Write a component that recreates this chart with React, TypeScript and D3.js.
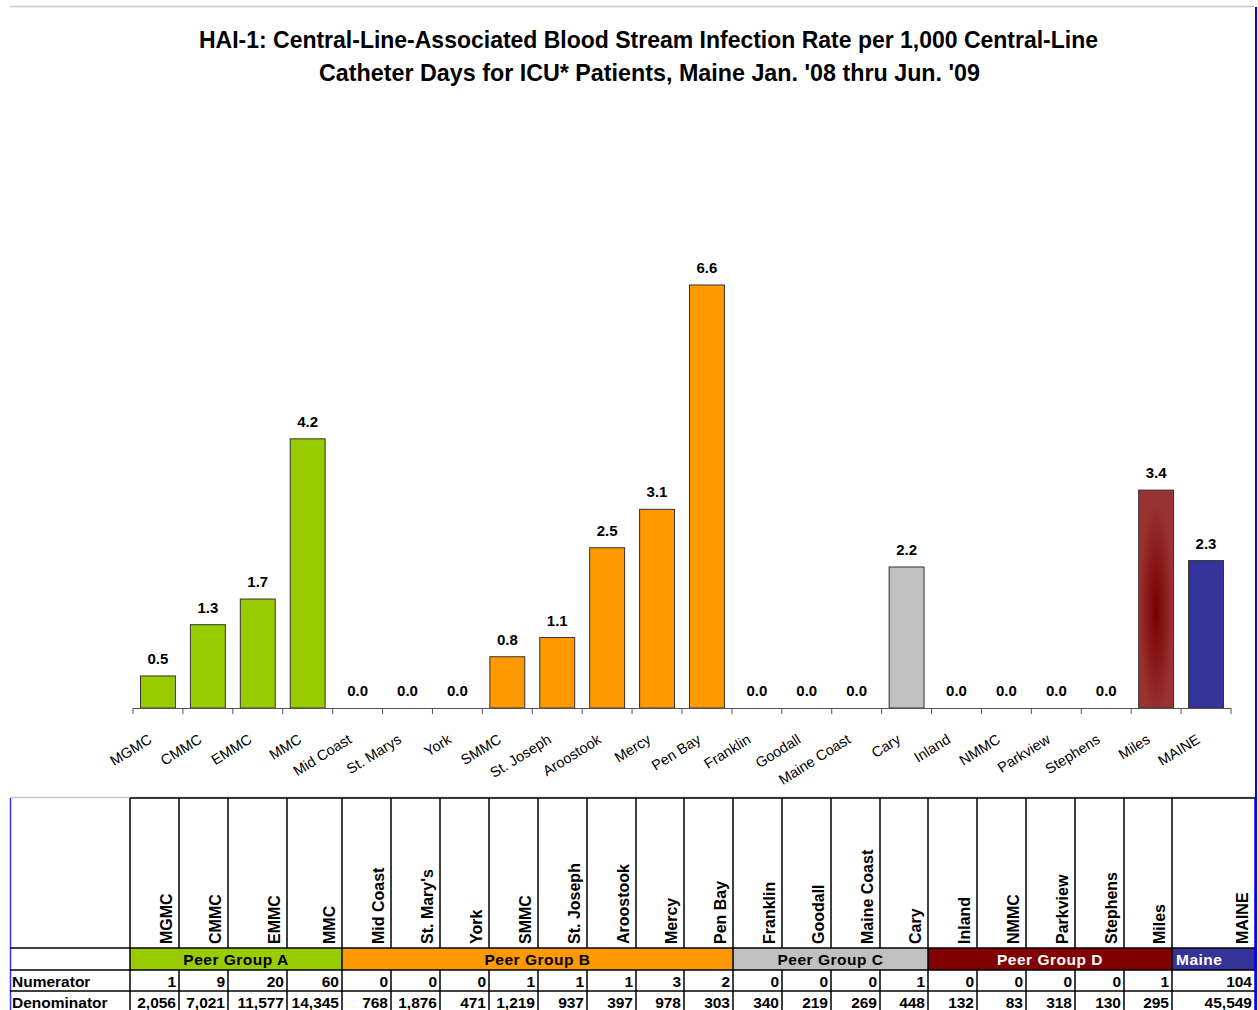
import React from "react";
import * as d3 from "d3";

const categories = ["MGMC","CMMC","EMMC","MMC","Mid Coast","St. Marys","York","SMMC","St. Joseph","Aroostook","Mercy","Pen Bay","Franklin","Goodall","Maine Coast","Cary","Inland","NMMC","Parkview","Stephens","Miles","MAINE"];
const tableNames = ["MGMC","CMMC","EMMC","MMC","Mid Coast","St. Mary's","York","SMMC","St. Joseph","Aroostook","Mercy","Pen Bay","Franklin","Goodall","Maine Coast","Cary","Inland","NMMC","Parkview","Stephens","Miles","MAINE"];
const rates = [0.5,1.3,1.7,4.2,0,0,0,0.8,1.1,2.5,3.1,6.6,0,0,0,2.2,0,0,0,0,3.4,2.3];
const numerators = [1,9,20,60,0,0,0,1,1,1,3,2,0,0,0,1,0,0,0,0,1,104];
const denominators = [2056,7021,11577,14345,768,1876,471,1219,937,397,978,303,340,219,269,448,132,83,318,130,295,45549];
const groupOf = ["A","A","A","A","B","B","B","B","B","B","B","B","C","C","C","C","D","D","D","D","D","M"];
const groups = [
  { key: "A", label: "Peer Group A" },
  { key: "B", label: "Peer Group B" },
  { key: "C", label: "Peer Group C" },
  { key: "D", label: "Peer Group D" },
  { key: "M", label: "Maine" },
];
const title1 = "HAI-1: Central-Line-Associated Blood Stream Infection Rate per 1,000 Central-Line";
const title2 = "Catheter Days for ICU* Patients, Maine Jan. '08 thru Jun. '09";

// styling / layout
const groupFill: Record<string, string> = { A: "#99CC00", B: "#FF9900", C: "#C0C0C0", D: "#800000", M: "#333399" };
const groupText: Record<string, string> = { A: "#000", B: "#000", C: "#000", D: "#fff", M: "#fff" };
const colEdges = [130,179,228,287,342,391,440,489,538,587,636,684,733,782,831,880,928,977,1026,1075,1124,1172,1255];
const FONT = "'Liberation Sans', Arial, sans-serif";

export default function App() {
  const W = 1258, H = 1010;
  const x = d3.scaleBand<string>().domain(categories).range([133, 1231]).paddingInner(0.3).paddingOuter(0.15);
  const y = d3.scaleLinear().domain([0, 6.6]).range([708, 285]);
  const step = x.step();
  const bw = x.bandwidth();
  const tickXs = d3.range(categories.length + 1).map((i) => 133 + i * step);
  const fmt = d3.format(",");
  const fillFor = (i: number) => (categories[i] === "Miles" ? "url(#milesGrad)" : groupFill[groupOf[i]]);

  const rowTop = 798, hdrBottom = 948, grpBottom = 970, numBottom = 991, denBottom = 1013;

  const groupSpans = groups.map((g) => {
    const idx = groupOf.map((k, i) => (k === g.key ? i : -1)).filter((i) => i >= 0);
    return { ...g, x0: colEdges[idx[0]], x1: colEdges[idx[idx.length - 1] + 1] };
  });

  return (
    <svg width={W} height={H} style={{ position: "absolute", left: 0, top: 0, background: "#fff" }} fontFamily={FONT}>
      <defs>
        <radialGradient id="milesGrad" cx="0.5" cy="0.55" r="0.5">
          <stop offset="0" stopColor="#780000" />
          <stop offset="1" stopColor="#993333" />
        </radialGradient>
      </defs>
      <rect x={0} y={0} width={W} height={H} fill="#fff" />
      {/* frame lines */}
      <line x1={10} x2={1254} y1={6.5} y2={6.5} stroke="#c8c8c8" strokeWidth={1.5} />
      <line x1={10} x2={1255} y1={797.5} y2={797.5} stroke="#c8c8c8" strokeWidth={1.5} />
      <line x1={1256} x2={1256} y1={7} y2={H} stroke="#0000ee" strokeWidth={2} />
      <line x1={10.5} x2={10.5} y1={798} y2={H} stroke="#3333ff" strokeWidth={1.5} />

      {/* title */}
      <text x={648.5} y={48} textAnchor="middle" fontSize={24} fontWeight="bold" textLength={899} lengthAdjust="spacingAndGlyphs">{title1}</text>
      <text x={649.5} y={81} textAnchor="middle" fontSize={24} fontWeight="bold" textLength={661} lengthAdjust="spacingAndGlyphs">{title2}</text>

      {/* bars */}
      {categories.map((c, i) => (
        <g key={c}>
          {rates[i] > 0 && (
            <rect x={x(c)!} y={y(rates[i])} width={bw} height={y(0) - y(rates[i])} fill={fillFor(i)} stroke="#333" strokeWidth={1} />
          )}
          <text x={x(c)! + bw / 2} y={y(rates[i]) - 12} textAnchor="middle" fontSize={15} fontWeight="bold">{rates[i].toFixed(1)}</text>
        </g>
      ))}

      {/* axis */}
      <line x1={133} x2={1231} y1={708.5} y2={708.5} stroke="#555" strokeWidth={1} />
      {tickXs.map((tx, i) => (
        <line key={i} x1={tx} x2={tx} y1={708} y2={714} stroke="#555" strokeWidth={1} />
      ))}
      {categories.map((c) => {
        const ax = x(c)! + bw / 2 - 5;
        const ay = 742;
        return (
          <text key={c} x={ax} y={ay} textAnchor="end" fontSize={14.5} transform={`rotate(-32 ${ax} ${ay})`}>{c}</text>
        );
      })}

      {/* table */}
      <g>
        {/* group row fills */}
        {groupSpans.map((g) => (
          <g key={g.key}>
            <rect x={g.x0} y={hdrBottom} width={g.x1 - g.x0} height={grpBottom - hdrBottom} fill={groupFill[g.key]} />
            <text x={g.key === "M" ? g.x0 + 4 : (g.x0 + g.x1) / 2} y={grpBottom - 5} textAnchor={g.key === "M" ? "start" : "middle"} fontSize={15.5} fontWeight="bold" fill={groupText[g.key]} letterSpacing={0.5}>{g.label}</text>
          </g>
        ))}
        {/* horizontal lines */}
        <line x1={130} x2={1255} y1={rowTop} y2={rowTop} stroke="#000" strokeWidth={1.5} />
        {[hdrBottom, grpBottom, numBottom].map((yy) => (
          <line key={yy} x1={10} x2={1255} y1={yy} y2={yy} stroke="#000" strokeWidth={1.5} />
        ))}
        {/* vertical lines: header and data rows */}
        {colEdges.map((cx, i) => (
          <g key={i} stroke={i === colEdges.length - 1 ? "#0000ee" : "#000"} strokeWidth={1.5}>
            <line x1={cx} x2={cx} y1={rowTop} y2={hdrBottom} />
            <line x1={cx} x2={cx} y1={grpBottom} y2={denBottom} />
          </g>
        ))}
        {/* vertical lines: group row only at group boundaries */}
        {[130, ...groupSpans.map((g) => g.x1)].map((cx, i) => (
          <line key={"g" + i} x1={cx} x2={cx} y1={hdrBottom} y2={grpBottom} stroke={cx === 1255 ? "#0000ee" : "#000"} strokeWidth={1.5} />
        ))}
        {/* header names */}
        {tableNames.map((n, i) => {
          const bx = colEdges[i + 1] - 7;
          const by = 944;
          return (
            <text key={n} x={bx} y={by} fontSize={16} fontWeight="bold" transform={`rotate(-90 ${bx} ${by})`}>{n}</text>
          );
        })}
        <text x={12} y={numBottom - 4} fontSize={15.5} fontWeight="bold">Numerator</text>
        <text x={12} y={1008} fontSize={15.5} fontWeight="bold">Denominator</text>
        {numerators.map((v, i) => (
          <text key={"n" + i} x={colEdges[i + 1] - 3} y={numBottom - 4} textAnchor="end" fontSize={15.5} fontWeight="bold">{fmt(v)}</text>
        ))}
        {denominators.map((v, i) => (
          <text key={"d" + i} x={colEdges[i + 1] - 3} y={1008} textAnchor="end" fontSize={15.5} fontWeight="bold">{fmt(v)}</text>
        ))}
      </g>
    </svg>
  );
}
